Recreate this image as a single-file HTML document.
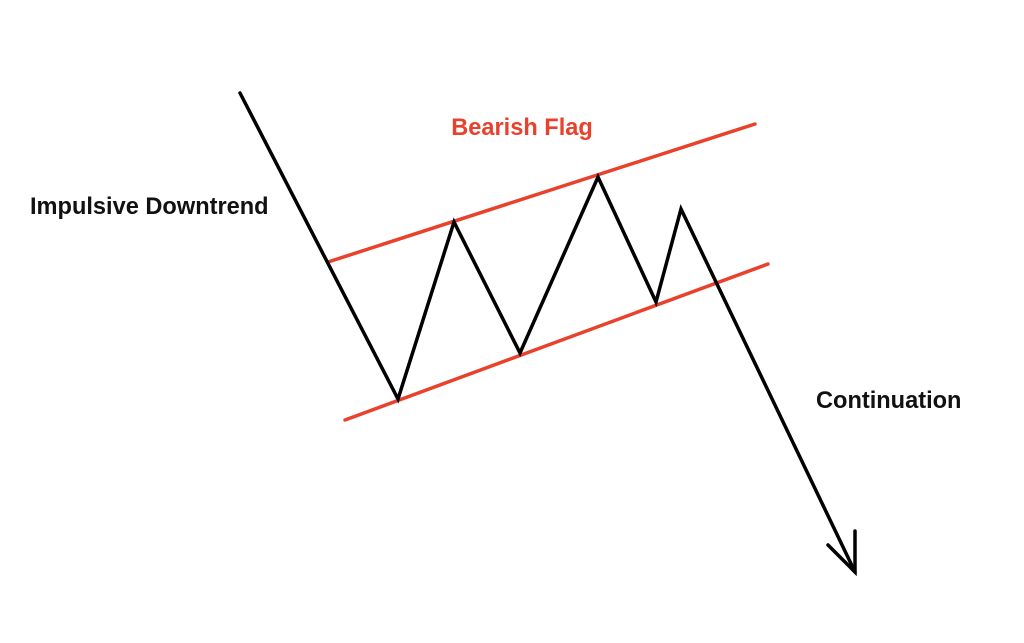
<!DOCTYPE html>
<html><head><style>
html,body{margin:0;padding:0;background:#fff;}
svg{display:block;}
text{font-family:"Liberation Sans",sans-serif;font-weight:bold;}
</style></head><body>
<svg width="1024" height="643" viewBox="0 0 1024 643">
<rect width="1024" height="643" fill="#fff"/>
<line x1="328" y1="262" x2="755" y2="124" stroke="#e8412c" stroke-width="3.5" stroke-linecap="round"/>
<line x1="345" y1="420" x2="768" y2="264" stroke="#e8412c" stroke-width="3.5" stroke-linecap="round"/>
<polyline points="240,93 398,399 454,222 520,353 598,177 656,302 681,209 855,572" fill="none" stroke="#000" stroke-width="3.5" stroke-linejoin="miter" stroke-linecap="round"/>
<polyline points="828,545 855,572 855,531" fill="none" stroke="#000" stroke-width="3.5" stroke-linecap="round"/>
<text x="522" y="135" fill="#e8412c" font-size="23.6" text-anchor="middle">Bearish Flag</text>
<text x="30" y="214" fill="#111" font-size="23.6">Impulsive Downtrend</text>
<text x="816" y="408" fill="#111" font-size="23.6">Continuation</text>
</svg>
</body></html>
